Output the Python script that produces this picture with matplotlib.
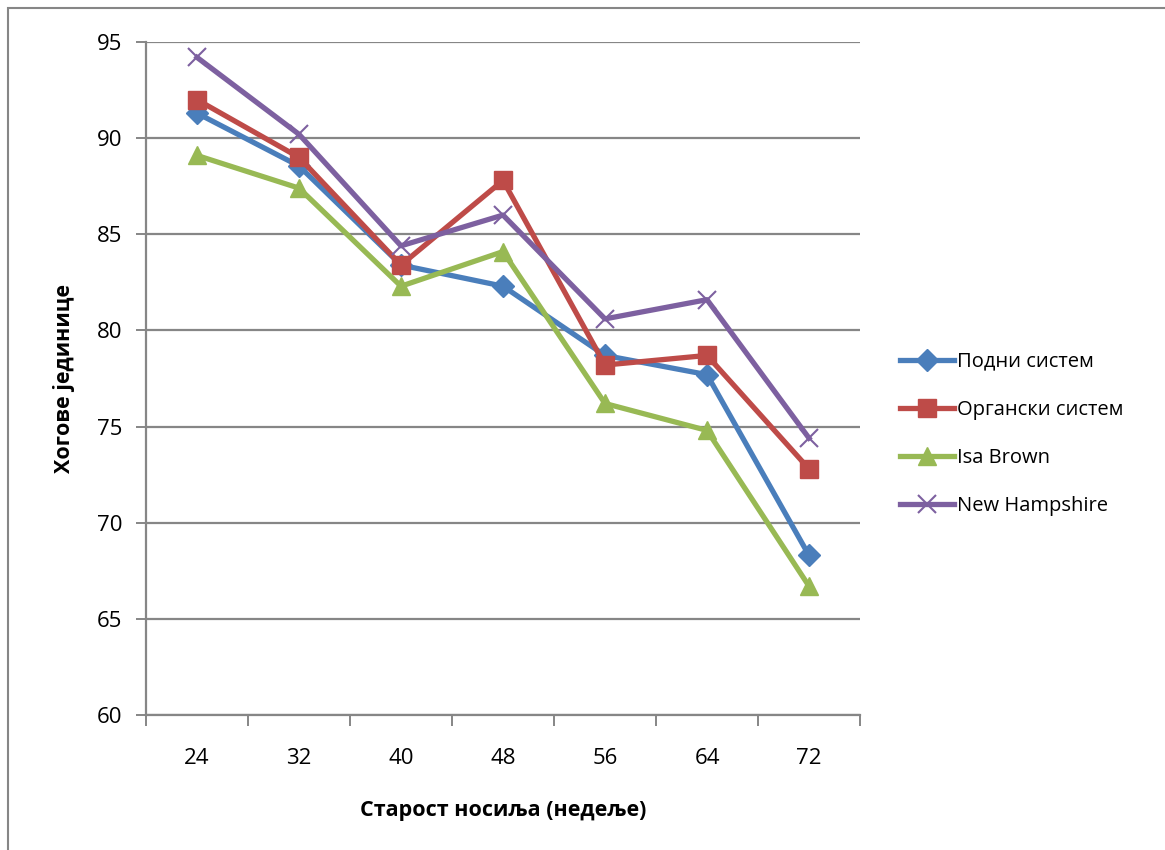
import matplotlib
matplotlib.use("Agg")
import matplotlib.pyplot as plt
from matplotlib.patches import Rectangle
from matplotlib.ticker import FixedLocator, NullFormatter

plt.rcParams['font.family'] = ['Open Sans', 'DejaVu Sans']

weeks = ["24", "32", "40", "48", "56", "64", "72"]
podni = [91.3, 88.55, 83.4, 82.3, 78.7, 77.7, 68.3]
organski = [92.0, 89.0, 83.4, 87.8, 78.2, 78.7, 72.8]
isa_brown = [89.1, 87.4, 82.3, 84.1, 76.2, 74.8, 66.7]
new_hampshire = [94.2, 90.2, 84.4, 86.0, 80.6, 81.6, 74.4]

series = [
    ("Подни систем", podni, "#4A7EBB", "D", 11),
    ("Органски систем", organski, "#BE4B48", "s", 12.5),
    ("Isa Brown", isa_brown, "#98B954", "^", 13),
    ("New Hampshire", new_hampshire, "#7D60A0", "x", 12.5),
]

fig = plt.figure(figsize=(11.65, 8.5), dpi=100)
ax = fig.add_axes([146 / 1165, 135 / 850, (860 - 146) / 1165, (715 - 42) / 850])

x = list(range(1, len(weeks) + 1))
for name, vals, color, marker, ms in series:
    kw = dict(markeredgewidth=1.5) if marker == "x" else dict(markeredgecolor=color)
    ax.plot(x, vals, color=color, linewidth=3.8, marker=marker, markersize=ms,
            markerfacecolor=color, label=name, **kw)

grey = "#868686"
ax.set_xlim(0.5, len(weeks) + 0.5)
ax.set_ylim(60, 95)
ax.set_yticks(range(60, 96, 5))
ax.yaxis.grid(True, color=grey, linewidth=1.6)
ax.set_axisbelow(True)

ax.set_xticks(x)
ax.set_xticklabels(weeks)
ax.xaxis.set_minor_locator(FixedLocator([i + 0.5 for i in range(0, len(weeks) + 1)]))
ax.xaxis.set_minor_formatter(NullFormatter())
ax.tick_params(axis="x", which="major", length=0, pad=24, labelsize=16)
ax.tick_params(axis="x", which="minor", length=8, width=1.4, color=grey)
ax.tick_params(axis="y", length=7, width=1.4, color=grey, labelsize=16, pad=10)

for side in ("top", "right"):
    ax.spines[side].set_visible(False)
for side in ("left", "bottom"):
    ax.spines[side].set_color(grey)
    ax.spines[side].set_linewidth(1.6)

ax.set_xlabel("Старост носиља (недеље)", fontsize=15.5, fontweight="bold", labelpad=22)
ax.set_ylabel("Хогове јединице", fontsize=15.5, fontweight="bold", labelpad=16)

ax.legend(loc="center left", bbox_to_anchor=(900 / 1165, 1 - 434 / 850),
          bbox_transform=fig.transFigure, frameon=False, fontsize=14.5,
          handlelength=2.7, handletextpad=0.15, labelspacing=1.4, borderaxespad=0,
          borderpad=0)

fig.patches.append(Rectangle((8 / 1165, -0.01), 1.02, 1 - 8 / 850 + 0.01,
                             transform=fig.transFigure, fill=False,
                             edgecolor=grey, linewidth=1.5))

fig.savefig("out.png", dpi=100, facecolor="white")
